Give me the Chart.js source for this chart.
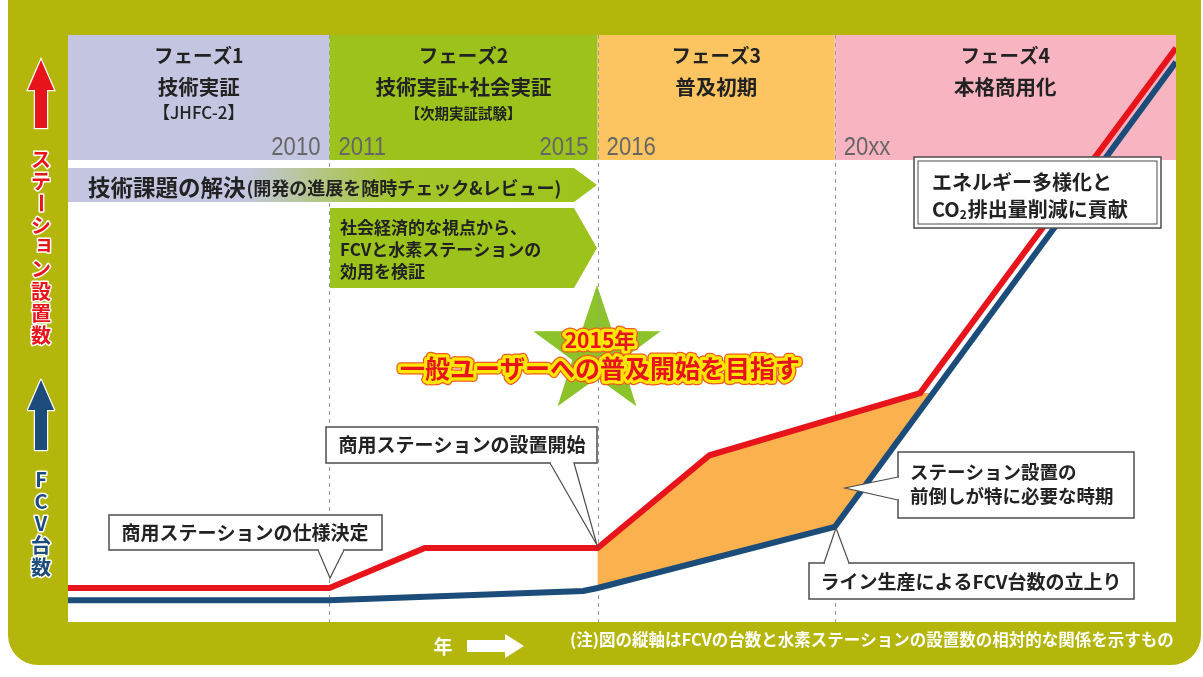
<!DOCTYPE html>
<html lang="ja">
<head>
<meta charset="UTF-8">
<title>FCVと水素ステーションの普及シナリオ</title>
<script src="https://cdn.jsdelivr.net/npm/chart.js"></script>
<style>
  body { margin: 0; background: #fff; }
  canvas { display: block; }
</style>
</head>
<body>
<canvas id="myChart" width="1203" height="677"></canvas>

<script>
    // x: relative time across the plot (0-100), y: relative count (0-100)
    const phaseNames = ['フェーズ1', 'フェーズ2', 'フェーズ3', 'フェーズ4']
    const phaseSubtitles = ['技術実証', '技術実証+社会実証', '普及初期', '本格商用化']
    const phaseNotes = ['【JHFC-2】', '【次期実証試験】', '', '']
    const phaseEdges = [0, 23.6, 47.8, 69.2, 100]

    const yearLabels = ['2010', '2011', '2015', '2016', '20xx']
    const yearAt = [23.6, 23.6, 47.8, 47.8, 69.2]
    const yearSide = [-1, 1, -1, 1, 1]

    // ステーション設置数 (red)
    const stationX = [0, 23.6, 32.2, 47.8, 57.9, 76.9, 100]
    const stationValues = [5.8, 5.8, 12.6, 12.6, 28.4, 39.0, 97.8]
    // FCV台数 (blue)
    const fcvX = [0, 23.6, 46.5, 47.8, 69.2, 100]
    const fcvValues = [3.7, 3.7, 5.3, 5.8, 16.2, 95.4]

    // period where stations must be built ahead of cars (orange area)
    const gapFrom = 47.8
    const gapTo = 76.9

    const FONT = "'Noto Sans CJK JP', 'Noto Sans', sans-serif"
    const OLIVE = '#b4b60c'
    const RED = '#e8141b'
    const BLUE = '#1c4d7a'
    const phaseColors = ['#c4c6e1', '#9cc31b', '#fdc561', '#f9b4c1']

    function txt(ctx, s, x, y, size, opts = {}) {
        ctx.font = (opts.weight || 'bold') + ' ' + size + 'px ' + (opts.family || FONT)
        ctx.fillStyle = opts.color || '#222'
        ctx.textAlign = opts.align || 'left'
        ctx.textBaseline = 'middle'
        ctx.fillText(s, x, y)
        return ctx.measureText(s).width
    }

    function upArrow(ctx, cx, top, headBase, bottom, color) {
        ctx.beginPath()
        ctx.moveTo(cx, top)
        ctx.lineTo(cx + 13, headBase)
        ctx.lineTo(cx + 6, headBase)
        ctx.lineTo(cx + 6, bottom)
        ctx.lineTo(cx - 6, bottom)
        ctx.lineTo(cx - 6, headBase)
        ctx.lineTo(cx - 13, headBase)
        ctx.closePath()
        ctx.lineWidth = 2.5
        ctx.strokeStyle = '#fff'
        ctx.stroke()
        ctx.fillStyle = color
        ctx.fill()
    }

    function verticalText(ctx, s, cx, top, step, color) {
        ctx.font = 'bold 20px ' + FONT
        ctx.textAlign = 'center'
        ctx.textBaseline = 'middle'
        ctx.lineJoin = 'round'
        Array.from(s).forEach((ch, i) => {
            ctx.save()
            ctx.translate(cx, top + step * i + step / 2)
            if (ch === 'ー') ctx.rotate(Math.PI / 2)
            if (ch === 'ョ') ctx.translate(3, -4)
            ctx.lineWidth = 3
            ctx.strokeStyle = '#fff'
            ctx.strokeText(ch, 0, 0)
            ctx.fillStyle = color
            ctx.fillText(ch, 0, 0)
            ctx.restore()
        })
    }

    function callout(ctx, x, y, w, h, ptr) {
        ctx.fillStyle = '#fff'
        ctx.strokeStyle = '#4d4d4d'
        ctx.lineWidth = 1.5
        ctx.fillRect(x, y, w, h)
        ctx.strokeRect(x, y, w, h)
        if (ptr) {
            const [b1, tip, b2] = ptr
            ctx.beginPath()
            ctx.moveTo(b1[0], b1[1])
            ctx.lineTo(tip[0], tip[1])
            ctx.lineTo(b2[0], b2[1])
            ctx.fillStyle = '#fff'
            ctx.fill()
            ctx.lineWidth = 1.2
            ctx.stroke()
            ctx.beginPath()
            const dx = Math.sign(b2[0] - b1[0]), dy = Math.sign(b2[1] - b1[1])
            ctx.moveTo(b1[0] + dx, b1[1] + dy)
            ctx.lineTo(b2[0] - dx, b2[1] - dy)
            ctx.lineWidth = 2.5
            ctx.strokeStyle = '#fff'
            ctx.stroke()
        }
    }

    function starPath(ctx, cx, cy, R, r) {
        ctx.beginPath()
        for (let i = 0; i < 10; i++) {
            const rad = i % 2 === 0 ? R : r
            const ang = -Math.PI / 2 + i * Math.PI / 5
            const px = cx + rad * Math.cos(ang), py = cy + rad * Math.sin(ang)
            if (i === 0) ctx.moveTo(px, py)
            else ctx.lineTo(px, py)
        }
        ctx.closePath()
    }

    function halo(ctx, s, x, y, size) {
        ctx.font = 'bold ' + size + 'px ' + FONT
        ctx.textAlign = 'center'
        ctx.textBaseline = 'middle'
        ctx.lineJoin = 'round'
        ctx.lineWidth = 9
        ctx.strokeStyle = '#ee5a1c'
        ctx.strokeText(s, x, y)
        ctx.lineWidth = 6.5
        ctx.strokeStyle = '#ffe600'
        ctx.strokeText(s, x, y)
        ctx.fillStyle = RED
        ctx.fillText(s, x, y)
    }

    const backdrop = {
        id: 'backdrop',
        beforeDatasetsDraw(chart) {
            const { ctx, chartArea: a, scales: { x, y } } = chart
            ctx.save()
            ctx.fillStyle = '#fff'
            ctx.fillRect(0, 0, chart.width, chart.height)
            ctx.fillStyle = OLIVE
            ctx.beginPath()
            ctx.roundRect(8, -40, 1193, 705, 30)
            ctx.fill()
            ctx.fillStyle = '#fff'
            ctx.fillRect(a.left, a.top, a.width, a.height)

            // phase bands
            for (let i = 0; i < phaseNames.length; i++) {
                const x0 = x.getPixelForValue(phaseEdges[i]), x1 = x.getPixelForValue(phaseEdges[i + 1])
                ctx.fillStyle = phaseColors[i]
                ctx.fillRect(x0, a.top, x1 - x0, 125)
                const cx = (x0 + x1) / 2
                txt(ctx, phaseNames[i], cx, a.top + 21, 19.5, { align: 'center' })
                txt(ctx, phaseSubtitles[i], cx, a.top + 52, 20.5, { align: 'center' })
                if (phaseNotes[i]) txt(ctx, phaseNotes[i], cx, a.top + 78, i === 0 ? 17 : 14.5, { align: 'center', weight: i === 0 ? '500' : 'bold' })
            }
            yearLabels.forEach((lab, i) => {
                const px = x.getPixelForValue(yearAt[i]) + yearSide[i] * 9
                ctx.save()
                ctx.translate(px, a.top + 113)
                ctx.scale(0.85, 1)
                txt(ctx, lab, 0, 0, 26, { weight: 'normal', family: "'Liberation Sans', sans-serif", color: '#666', align: yearSide[i] < 0 ? 'right' : 'left' })
                ctx.restore()
            })

            // star
            starPath(ctx, 597, 352, 67, 26)
            ctx.fillStyle = '#8cc32a'
            ctx.fill()

            // dashed phase boundaries
            ctx.strokeStyle = '#9a9a9a'
            ctx.lineWidth = 1
            ctx.setLineDash([4, 4])
            phaseEdges.slice(1, -1).forEach(v => {
                const px = Math.round(x.getPixelForValue(v)) + 0.5
                ctx.beginPath()
                ctx.moveTo(px, a.top)
                ctx.lineTo(px, a.bottom)
                ctx.stroke()
            })
            ctx.setLineDash([])

            // banner arrows
            const g = ctx.createLinearGradient(68, 0, 597, 0)
            g.addColorStop(0, '#c4c6e1')
            g.addColorStop(0.33, '#c4c6e1')
            g.addColorStop(0.62, '#a4c52a')
            g.addColorStop(1, '#9cc31b')
            ctx.fillStyle = g
            ctx.beginPath()
            ctx.moveTo(68, 168); ctx.lineTo(574, 168); ctx.lineTo(597, 185); ctx.lineTo(574, 202); ctx.lineTo(68, 202)
            ctx.closePath()
            ctx.fill()
            const w1 = txt(ctx, '技術課題の解決', 88, 187, 22.5)
            txt(ctx, '(開発の進展を随時チェック&レビュー)', 88 + w1 + 1, 188, 18)

            ctx.fillStyle = '#9cc31b'
            ctx.beginPath()
            ctx.moveTo(330, 208); ctx.lineTo(574, 208); ctx.lineTo(597, 248); ctx.lineTo(574, 288); ctx.lineTo(330, 288)
            ctx.closePath()
            ctx.fill()
            txt(ctx, '社会経済的な視点から、', 340, 228, 17)
            txt(ctx, 'FCVと水素ステーションの', 340, 250, 17)
            txt(ctx, '効用を検証', 340, 272, 17)

            halo(ctx, '2015年', 600, 340, 21)
            halo(ctx, '一般ユーザーへの普及開始を目指す', 600, 368, 25)

            // orange gap between station line and FCV line
            const pts = []
            stationX.forEach((v, i) => {
                if (v >= gapFrom && v <= gapTo) pts.push([v, stationValues[i]])
            })
            const yEnd = pts[pts.length - 1][1]
            let xEnd = gapTo
            for (let i = 1; i < fcvX.length; i++) {
                if (fcvValues[i - 1] <= yEnd && fcvValues[i] >= yEnd) {
                    xEnd = fcvX[i - 1] + (yEnd - fcvValues[i - 1]) / (fcvValues[i] - fcvValues[i - 1]) * (fcvX[i] - fcvX[i - 1])
                    break
                }
            }
            pts.push([xEnd, yEnd])
            for (let i = fcvX.length - 1; i >= 0; i--) {
                if (fcvX[i] >= gapFrom && fcvX[i] < xEnd) pts.push([fcvX[i], fcvValues[i]])
            }
            ctx.fillStyle = '#fbb24e'
            ctx.beginPath()
            pts.forEach((p, i) => {
                const px = x.getPixelForValue(p[0]), py = y.getPixelForValue(p[1])
                if (i === 0) ctx.moveTo(px, py)
                else ctx.lineTo(px, py)
            })
            ctx.closePath()
            ctx.fill()
            ctx.restore()
        },
        afterDatasetsDraw(chart) {
            const { ctx } = chart
            ctx.save()

            callout(ctx, 109, 515, 273, 35, [[318, 550], [330, 578], [344, 550]])
            txt(ctx, '商用ステーションの仕様決定', 245, 533, 19, { align: 'center' })

            callout(ctx, 326, 427, 271, 36, [[550, 463], [597, 545], [574, 463]])
            txt(ctx, '商用ステーションの設置開始', 462, 445, 19, { align: 'center' })

            callout(ctx, 914, 157, 247, 71)
            ctx.lineWidth = 1
            ctx.strokeRect(918, 161, 239, 63)
            txt(ctx, 'エネルギー多様化と', 932, 182, 20)
            let cx = 932 + txt(ctx, 'CO', 932, 209, 20)
            cx += txt(ctx, '2', cx, 214, 12)
            txt(ctx, '排出量削減に貢献', cx + 1, 209, 20)

            callout(ctx, 898, 452, 236, 66, [[898, 477], [845, 488], [898, 500]])
            txt(ctx, 'ステーション設置の', 910, 472, 18.5)
            txt(ctx, '前倒しが特に必要な時期', 910, 496, 18.5)

            callout(ctx, 809, 563, 325, 36, [[824, 563], [836, 528], [849, 563]])
            txt(ctx, 'ライン生産によるFCV台数の立上り', 971, 582, 19, { align: 'center' })

            // left axis labels
            upArrow(ctx, 41, 60, 90, 128, RED)
            verticalText(ctx, 'ステーション設置数', 41, 148, 22, RED)
            upArrow(ctx, 41, 380, 410, 450, BLUE)
            verticalText(ctx, 'FCV台数', 41, 468, 22, BLUE)

            // bottom: time axis and note
            txt(ctx, '年', 443, 647, 19, { align: 'center', color: '#fff' })
            ctx.fillStyle = '#fff'
            ctx.beginPath()
            ctx.moveTo(467, 640); ctx.lineTo(505, 640); ctx.lineTo(505, 634); ctx.lineTo(524, 646)
            ctx.lineTo(505, 658); ctx.lineTo(505, 652); ctx.lineTo(467, 652)
            ctx.closePath()
            ctx.fill()
            ctx.font = 'bold 16.5px ' + FONT
            ctx.fillStyle = '#fff'
            ctx.textAlign = 'left'
            ctx.textBaseline = 'middle'
            ctx.fillText('(注)図の縦軸はFCVの台数と水素ステーションの設置数の相対的な関係を示すもの', 570, 640, 604)
            ctx.restore()
        }
    }

    const ctx = document.getElementById('myChart')

    const data = {
        datasets: [{
            label: 'ステーション設置数',
            data: stationX.map((v, i) => ({ x: v, y: stationValues[i] })),
            borderColor: RED,
            borderWidth: 6,
            pointRadius: 0,
            tension: 0,
            fill: false
        },
        {
            label: 'FCV台数',
            data: fcvX.map((v, i) => ({ x: v, y: fcvValues[i] })),
            borderColor: BLUE,
            borderWidth: 6,
            pointRadius: 0,
            tension: 0,
            fill: false
        }]
    }

    const config = {
        type: 'line',
        data: data,
        options: {
            responsive: false,
            devicePixelRatio: 1,
            animation: false,
            events: [],
            layout: { padding: { left: 68, right: 27, top: 35, bottom: 55 } },
            plugins: { legend: { display: false }, tooltip: { enabled: false } },
            scales: {
                x: { type: 'linear', min: 0, max: 100, display: false },
                y: { min: 0, max: 100, display: false }
            }
        },
        plugins: [backdrop]
    }
    window.fcvChart = new Chart(ctx, config)
</script>
</body>
</html>
